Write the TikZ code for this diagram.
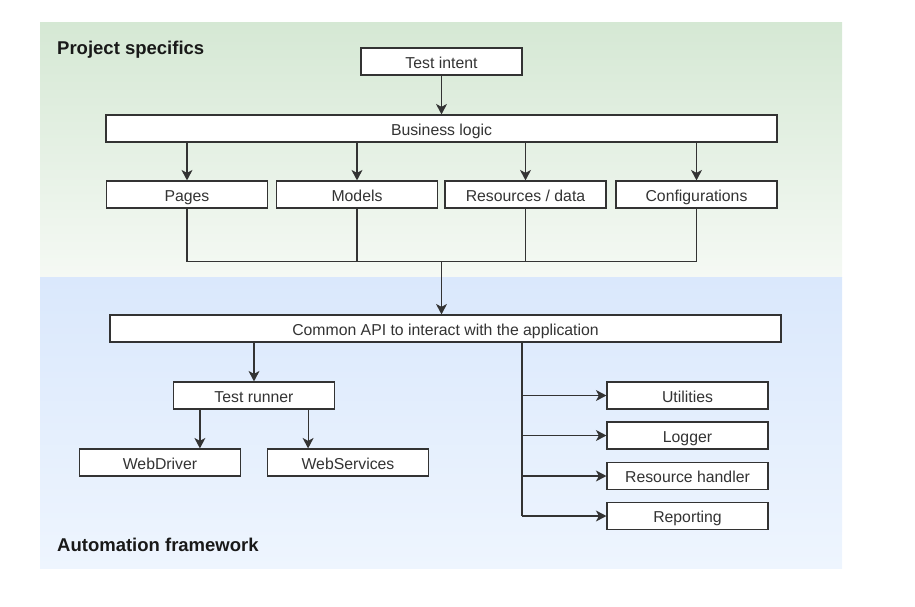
\documentclass[tikz,border=0pt]{standalone}
\usepackage{fontspec}
\setmainfont{Liberation Sans}
\usepackage{tikz}
\usetikzlibrary{shapes,arrows,positioning,arrows.meta,backgrounds,fit}
\definecolor{projgreen}{HTML}{D5E8D4}
\definecolor{projgreenlight}{HTML}{F5F9F4}
\definecolor{autoblue}{HTML}{DAE8FC}
\definecolor{autobluelight}{HTML}{EEF5FE}
\definecolor{inkgray}{HTML}{333333}
\tikzstyle{block} = [rectangle, draw=inkgray, fill=white, line width=1.2pt,
    minimum width=161pt, minimum height=27pt, inner sep=0pt, text=inkgray,
    text height=14pt, text depth=1pt, font=\fontsize{15.8}{18}\selectfont]
\tikzstyle{line} = [draw=inkgray, line width=1.2pt, -{Stealth[length=10.5pt,width=11pt,inset=3pt]}]

\begin{document}
\begin{tikzpicture}[x=1pt, y=-1pt, node distance=67pt]
    \tikzstyle{wideblock} = [block, minimum width=671pt]
    \tikzstyle{title} = [anchor=west, inner sep=0pt, text=black!90, font=\fontsize{18.5}{22}\selectfont\bfseries]
    \tikzstyle{wire} = [draw=inkgray, line width=1.2pt]
    \useasboundingbox (0,0) rectangle (915,606);

    % Backgrounds
    \fill [top color=projgreen, bottom color=projgreenlight] (40,22) rectangle (842,277);
    \fill [top color=autoblue, bottom color=autobluelight] (40,277) rectangle (842,568);
    \node [title] (projtitle) at (57,50) {Project specifics};
    \node [title] (autotitle) at (57,545) {Automation framework};

    % Test intent
    \node [block] (intent) at (441.5,61.5) {Test intent};

    % Business logic
    \node [wideblock, below of=intent] (logic) {Business logic};

    % Pages, Models, Resources, Configurations
    \node [block, below of=logic, xshift=-254.5pt, yshift=1pt] (pages) {Pages};
    \node [block, below of=logic, xshift=-84.5pt, yshift=1pt] (models) {Models};
    \node [block, below of=logic, xshift=84pt, yshift=1pt] (resources) {Resources / data};
    \node [block, below of=logic, xshift=255pt, yshift=1pt] (configs) {Configurations};
    \coordinate (join) at (441.5,261.5);

    % Common API
    \node [wideblock, below of=logic, xshift=4pt, yshift=-133pt] (api) {Common API to interact with the application};

    % Test runner
    \node [block, below of=api, xshift=-191.5pt] (runner) {Test runner};
    \node [block, below of=runner, xshift=-94pt] (webdriver) {WebDriver};
    \node [block, below of=runner, xshift=94pt] (webservices) {WebServices};
    \coordinate (rleft) at ([xshift=27pt]runner.south west);
    \coordinate (rright) at ([xshift=-27pt]runner.south east);

    % Utilities etc.
    \node [block, below of=api, xshift=242pt] (utilities) {Utilities};
    \node [block, node distance=40pt, below of=utilities] (logger) {Logger};
    \node [block, node distance=40.5pt, below of=logger] (handler) {Resource handler};
    \node [block, node distance=40pt, below of=handler] (reporting) {Reporting};
    \coordinate (bus) at ([xshift=76.5pt]api.south);

    % Arrows
    \path [line] (intent) -- (logic);
    \path [line] (pages |- logic.south) -- (pages);
    \path [line] (models |- logic.south) -- (models);
    \path [line] (resources |- logic.south) -- (resources);
    \path [line] (configs |- logic.south) -- (configs);
    \path [wire] (pages) -- (pages |- join);
    \path [wire] (models) -- (models |- join);
    \path [wire] (resources) -- (resources |- join);
    \path [wire] (configs) -- (configs |- join);
    \path [wire] (pages |- join) -- (configs |- join);
    \path [line] (join) -- (join |- api.north);
    \path [line] (runner |- api.south) -- (runner);
    \path [line] (rleft) -- (rleft |- webdriver.north);
    \path [line] (rright) -- (rright |- webservices.north);
    \path [wire] (bus) -- (bus |- reporting);
    \path [line] (bus |- utilities) -- (utilities);
    \path [line] (bus |- logger) -- (logger);
    \path [line] (bus |- handler) -- (handler);
    \path [line] (bus |- reporting) -- (reporting);

  \end{tikzpicture}
\end{document}
